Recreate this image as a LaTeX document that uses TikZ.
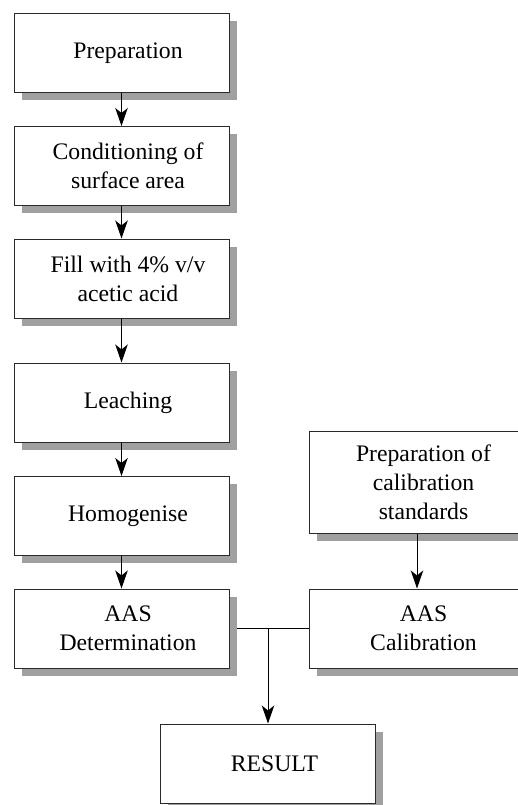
\documentclass[tikz,border=0pt]{standalone}
\usepackage{fontspec}
\setmainfont{Liberation Serif}
\usetikzlibrary{arrows.meta,shadows,positioning,calc}
\definecolor{shadowgray}{HTML}{A0A0A0}
\definecolor{edgegray}{HTML}{2A2A2A}
\tikzset{
  stepbox/.style={draw=edgegray, line width=1pt, fill=white, rectangle,
    minimum width=215pt, minimum height=79pt, inner sep=0pt,
    drop shadow={shadow xshift=7.5pt, shadow yshift=-7.5pt, fill=shadowgray, opacity=1}},
  tallbox/.style={stepbox, minimum height=102pt},
  lbl/.style={align=center, inner sep=0pt, font=\fontsize{23.7}{29}\selectfont},
  flow/.style={draw=black, line width=1pt, -{Stealth[length=18pt,width=12.5pt,inset=5pt]}},
  link/.style={draw=black, line width=1pt}
}
\begin{document}
\begin{tikzpicture}[x=1pt, y=-1pt]
  \useasboundingbox (0,0) rectangle (518,805);
  \clip (0,0) rectangle (518,805);

  % main column
  \node[stepbox] (prep) at (121.5,53) {};
  \node[stepbox] (cond) at (121.5,166) {};
  \node[stepbox] (fill) at (121.5,278.5) {};
  \node[stepbox] (leach) at (121.5,402.5) {};
  \node[stepbox] (homog) at (121.5,516) {};
  \node[stepbox] (det) at (121.5,628.5) {};
  % calibration column
  \node[tallbox] (calprep) at (417,482) {};
  \node[stepbox] (cal) at (417,628.5) {};
  % result
  \node[stepbox] (res) at (268,763.5) {};

  % labels
  \node[lbl] (tprep) at ([xshift=6.5pt]prep.center) {Preparation};
  \node[lbl] (tcond) at ([xshift=6.5pt]cond.center) {Conditioning of\\surface area};
  \node[lbl] (tfill) at ([xshift=6.5pt]fill.center) {Fill with 4\% v/v\\acetic acid};
  \node[lbl] (tleach) at ([xshift=6.5pt]leach.center) {Leaching};
  \node[lbl] (thomog) at ([xshift=6.5pt]homog.center) {Homogenise};
  \node[lbl] (tdet) at ([xshift=6.5pt]det.center) {AAS\\Determination};
  \node[lbl] (tcalprep) at ([xshift=6.5pt]calprep.center) {Preparation of\\calibration\\standards};
  \node[lbl] (tcal) at ([xshift=6.5pt]cal.center) {AAS\\Calibration};
  \node[lbl] (tres) at ([xshift=6.5pt]res.center) {RESULT};

  % connectors
  \draw[flow] (prep) -- (cond);
  \draw[flow] (cond) -- (fill);
  \draw[flow] (fill) -- (leach);
  \draw[flow] (leach) -- (homog);
  \draw[flow] (homog) -- (det);
  \draw[flow] (calprep) -- (cal);

  \coordinate (jl) at ([xshift=7.5pt]det.east);
  \coordinate (jn) at (res.north |- det.east);
  \draw[link] (jl) -- (cal.west);
  \draw[flow] (jn) -- (res.north);
\end{tikzpicture}
\end{document}
